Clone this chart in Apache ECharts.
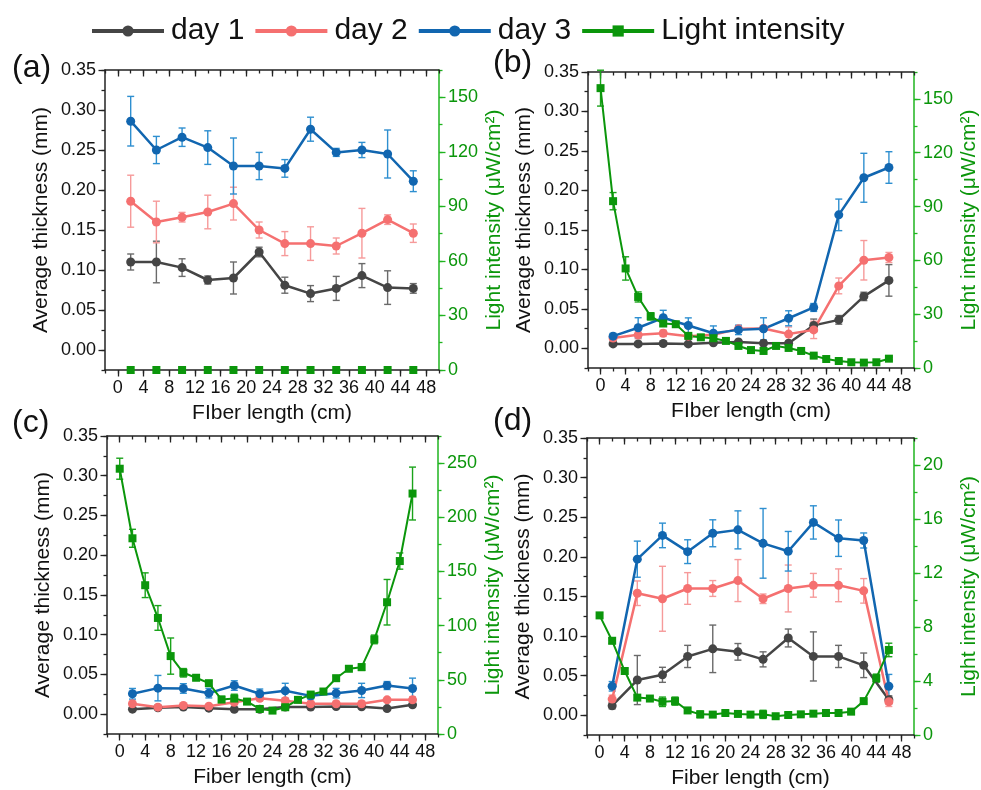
<!DOCTYPE html>
<html>
<head>
<meta charset="utf-8">
<title>Average thickness and light intensity along the fiber</title>
<script src="https://cdn.jsdelivr.net/npm/echarts@6/dist/echarts.min.js"></script>
<style>
  html, body { margin: 0; padding: 0; background: #fff; }
  #chart { width: 981px; height: 790px; }
</style>
</head>
<body>
<div id="chart"></div>
<script>
// positions along the fiber (cm)
const xDays = [2, 6, 10, 14, 18, 22, 26, 30, 34, 38, 42, 46]
const xLight = [0, 2, 4, 6, 8, 10, 12, 14, 16, 18, 20, 22, 24, 26, 28, 30, 32, 34, 36, 38, 40, 42, 44, 46]

// panel (a)
const aDay1 = [0.110, 0.110, 0.103, 0.0875, 0.090, 0.1225, 0.081, 0.0705, 0.077, 0.093, 0.078, 0.077]
const aDay1Err = [0.010, 0.026, 0.011, 0.005, 0.020, 0.006, 0.010, 0.010, 0.015, 0.015, 0.021, 0.006]
const aDay2 = [0.186, 0.160, 0.166, 0.1725, 0.183, 0.150, 0.133, 0.133, 0.130, 0.146, 0.163, 0.146]
const aDay2Err = [0.0325, 0.026, 0.006, 0.021, 0.0205, 0.010, 0.015, 0.021, 0.010, 0.031, 0.006, 0.0115]
const aDay3 = [0.286, 0.250, 0.266, 0.253, 0.230, 0.230, 0.227, 0.276, 0.247, 0.250, 0.245, 0.211]
const aDay3Err = [0.031, 0.017, 0.0115, 0.021, 0.035, 0.017, 0.011, 0.015, 0.005, 0.0095, 0.030, 0.013]
const aLight = [0, 0, 0, 0, 0, 0, 0, 0, 0, 0, 0, 0]
const aLightErr = [0, 0, 0, 0, 0, 0, 0, 0, 0, 0, 0, 0]

// panel (b)
const bDay1 = [0.0055, 0.0055, 0.006, 0.0055, 0.007, 0.008, 0.0064, 0.0064, 0.029, 0.036, 0.0657, 0.086]
const bDay1Err = [0.002, 0.002, 0.002, 0.002, 0.002, 0.002, 0.002, 0.002, 0.008, 0.0055, 0.0053, 0.020]
const bDay2 = [0.013, 0.017, 0.019, 0.0153, 0.017, 0.0246, 0.025, 0.018, 0.0233, 0.079, 0.1115, 0.115]
const bDay2Err = [0.003, 0.005, 0.004, 0.003, 0.003, 0.004, 0.003, 0.009, 0.011, 0.010, 0.025, 0.0064]
const bDay3 = [0.0153, 0.026, 0.0386, 0.0288, 0.019, 0.0233, 0.0246, 0.038, 0.0517, 0.169, 0.216, 0.229]
const bDay3Err = [0.0035, 0.0127, 0.0095, 0.0097, 0.0093, 0.006, 0.014, 0.0095, 0.005, 0.020, 0.031, 0.020]
const bLight = [156, 93, 55.5, 39.6, 28.8, 24.8, 24.4, 17.9, 17.1, 16.6, 15.1, 12.3, 10.0, 9.5, 12.3, 11.2, 9.5, 6.9, 5.0, 3.9, 3.2, 3.0, 3.2, 5.2]
const bLightErr = [10, 4.8, 6.5, 2.8, 2, 1.5, 1.2, 1.5, 1, 1, 1, 1, 1, 1, 1, 1.5, 1, 0.8, 0.8, 0.8, 0.8, 0.8, 0.8, 0.8]

// panel (c)
const cDay1 = [0.0063, 0.008, 0.009, 0.0075, 0.006, 0.006, 0.009, 0.009, 0.0096, 0.0092, 0.007, 0.0117]
const cDay1Err = [0.002, 0.002, 0.002, 0.002, 0.002, 0.002, 0.002, 0.002, 0.002, 0.002, 0.002, 0.003]
const cDay2 = [0.013, 0.0088, 0.011, 0.010, 0.015, 0.020, 0.0168, 0.013, 0.013, 0.013, 0.018, 0.018]
const cDay2Err = [0.003, 0.002, 0.002, 0.002, 0.003, 0.003, 0.003, 0.002, 0.002, 0.003, 0.002, 0.004]
const cDay3 = [0.0256, 0.0327, 0.0323, 0.0264, 0.036, 0.0256, 0.0293, 0.023, 0.0264, 0.0298, 0.036, 0.0323]
const cDay3Err = [0.0067, 0.016, 0.006, 0.006, 0.006, 0.006, 0.0095, 0.004, 0.006, 0.009, 0.005, 0.013]
const cLight = [244.8, 180.6, 137.3, 107.1, 71.9, 56.5, 51.9, 46.9, 31.8, 32.7, 29.9, 23.1, 21.6, 24.7, 31.5, 36.4, 39.2, 51.5, 60.2, 61.7, 87.3, 121.6, 159.6, 221.9]
const cLightErr = [9.7, 8.3, 11.4, 11.4, 16.7, 3.9, 2, 2, 3, 4, 2, 2, 1.5, 2, 2, 2, 2, 2, 2, 3, 4, 21, 7.5, 24.4]

// panel (d)
const dDay1 = [0.012, 0.0444, 0.051, 0.0742, 0.0838, 0.080, 0.0705, 0.0975, 0.0742, 0.0742, 0.063, 0.0195]
const dDay1Err = [0.004, 0.031, 0.0095, 0.014, 0.030, 0.0105, 0.0095, 0.0113, 0.031, 0.014, 0.0155, 0.005]
const dDay2 = [0.0203, 0.154, 0.147, 0.160, 0.160, 0.170, 0.147, 0.160, 0.164, 0.164, 0.157, 0.017]
const dDay2Err = [0.005, 0.0155, 0.041, 0.020, 0.010, 0.0265, 0.006, 0.0296, 0.015, 0.0207, 0.0155, 0.006]
const dDay3 = [0.0365, 0.197, 0.227, 0.2065, 0.2297, 0.234, 0.217, 0.207, 0.2434, 0.2235, 0.2206, 0.0365]
const dDay3Err = [0.006, 0.0228, 0.0155, 0.015, 0.017, 0.024, 0.044, 0.025, 0.021, 0.023, 0.0095, 0.015]
const dLight = [8.86, 6.98, 4.74, 2.77, 2.70, 2.46, 2.51, 1.82, 1.53, 1.51, 1.63, 1.56, 1.51, 1.53, 1.39, 1.48, 1.53, 1.58, 1.63, 1.63, 1.73, 2.51, 4.21, 6.30]
const dLightErr = [0.2, 0.2, 0.2, 0.2, 0.15, 0.35, 0.3, 0.15, 0.25, 0.15, 0.15, 0.15, 0.15, 0.3, 0.15, 0.2, 0.15, 0.15, 0.15, 0.15, 0.15, 0.15, 0.3, 0.5]

// tick labels
const xTicks = [0, 4, 8, 12, 16, 20, 24, 28, 32, 36, 40, 44, 48]
const thickTicks = [0, 0.05, 0.1, 0.15, 0.2, 0.25, 0.3, 0.35]
const lightTicksAB = [0, 30, 60, 90, 120, 150]
const lightTicksC = [0, 50, 100, 150, 200, 250]
const lightTicksD = [0, 4, 8, 12, 16, 20]

const FONT = 'Liberation Sans'
const C_DAY1 = '#454545'
const C_DAY2 = '#f57070'
const C_DAY3 = '#1166b0'
const C_LIGHT = '#0b960b'
const C_GREEN_AXIS = '#1fb41f'

// panels: plot box and axes per panel
const panels = [
  { box: { left: 105, top: 70, width: 334, height: 300 }, xName: 'FIber length (cm)', lmax: 165, lstep: 15, lticks: lightTicksAB,
    d1: aDay1, e1: aDay1Err, d2: aDay2, e2: aDay2Err, d3: aDay3, e3: aDay3Err, xl: xDays, li: aLight, le: aLightErr, hideLightLine: true },
  { box: { left: 588, top: 72, width: 334, height: 296 }, xName: 'FIber length (cm)', lmax: 165, lstep: 15, lticks: lightTicksAB,
    d1: bDay1, e1: bDay1Err, d2: bDay2, e2: bDay2Err, d3: bDay3, e3: bDay3Err, xl: xLight, li: bLight, le: bLightErr },
  { box: { left: 107, top: 436, width: 331, height: 298 }, xName: 'Fiber length (cm)', lmax: 275, lstep: 25, lticks: lightTicksC,
    d1: cDay1, e1: cDay1Err, d2: cDay2, e2: cDay2Err, d3: cDay3, e3: cDay3Err, xl: xLight, li: cLight, le: cLightErr },
  { box: { left: 587, top: 438, width: 335, height: 301 }, xName: 'Fiber length (cm)', lmax: 22, lstep: 2, lticks: lightTicksD,
    d1: dDay1, e1: dDay1Err, d2: dDay2, e2: dDay2Err, d3: dDay3, e3: dDay3Err, xl: xLight, li: dLight, le: dLightErr }
]

const grid = []
const xAxis = []
const yAxis = []
const series = []

function near(v, list) {
  return list.some((t) => Math.abs(t - v) < 1e-6)
}

function errSeries(xs, ys, errs, color, xi, yi) {
  return {
    type: 'custom',
    xAxisIndex: xi,
    yAxisIndex: yi,
    silent: true,
    encode: { x: 0, y: 1 },
    data: xs.map((x, i) => [x, ys[i], errs[i]]),
    renderItem: function (params, api) {
      const x = api.value(0)
      const y = api.value(1)
      const e = api.value(2)
      const hi = api.coord([x, y + e])
      const lo = api.coord([x, y - e])
      const w = 3.5
      const st = { stroke: color, lineWidth: 1.4 }
      return {
        type: 'group',
        children: [
          { type: 'line', shape: { x1: hi[0], y1: hi[1], x2: lo[0], y2: lo[1] }, style: st },
          { type: 'line', shape: { x1: hi[0] - w, y1: hi[1], x2: hi[0] + w, y2: hi[1] }, style: st },
          { type: 'line', shape: { x1: lo[0] - w, y1: lo[1], x2: lo[0] + w, y2: lo[1] }, style: st }
        ]
      }
    }
  }
}

function lineSeries(name, xs, ys, color, xi, yi, symbol, size, width) {
  return {
    type: 'line',
    name: name,
    xAxisIndex: xi,
    yAxisIndex: yi,
    data: xs.map((x, i) => [x, ys[i]]),
    symbol: symbol,
    symbolSize: size,
    showAllSymbol: true,
    // 折线宽度
    lineStyle: { color: color, width: width },
    itemStyle: { color: color },
    emphasis: { disabled: true }
  }
}

panels.forEach((p, k) => {
  grid.push(p.box)
  const xi = xAxis.length
  const yi = yAxis.length

  // bottom axis: minor ticks + labels
  xAxis.push({
    gridIndex: k, type: 'value', position: 'bottom', min: -2, max: 50, interval: 2,
    name: p.xName, nameLocation: 'middle', nameGap: 33,
    nameTextStyle: { fontFamily: FONT, fontSize: 21, color: '#111' },
    axisLine: { onZero: false, lineStyle: { color: '#222', width: 1.5 } },
    axisTick: { length: 3.5, lineStyle: { color: '#222', width: 1.3 } },
    axisLabel: {
      margin: 9, fontFamily: FONT, fontSize: 18, color: '#111',
      formatter: (v) => (near(v, xTicks) ? String(Math.round(v)) : '')
    },
    splitLine: { show: false }
  })
  // bottom axis: major ticks
  xAxis.push({
    gridIndex: k, type: 'value', position: 'bottom', min: -2, max: 50,
    axisLine: { show: false, onZero: false },
    axisTick: { length: 6.5, customValues: xTicks, lineStyle: { color: '#222', width: 1.3 } },
    axisLabel: { show: false },
    splitLine: { show: false }
  })
  // top mirror axis: ticks inward
  xAxis.push({
    gridIndex: k, type: 'value', position: 'top', min: -2, max: 50, interval: 2,
    axisLine: { onZero: false, lineStyle: { color: '#222', width: 1.5 } },
    axisTick: { inside: true, length: 3.5, lineStyle: { color: '#222', width: 1.3 } },
    axisLabel: { show: false },
    splitLine: { show: false }
  })
  xAxis.push({
    gridIndex: k, type: 'value', position: 'top', min: -2, max: 50,
    axisLine: { show: false, onZero: false },
    axisTick: { inside: true, length: 6.5, customValues: xTicks, lineStyle: { color: '#222', width: 1.3 } },
    axisLabel: { show: false },
    splitLine: { show: false }
  })

  // left axis: thickness
  yAxis.push({
    gridIndex: k, type: 'value', position: 'left', min: -0.025, max: 0.35, interval: 0.025,
    name: 'Average thickness (mm)', nameLocation: 'middle', nameGap: 53, nameRotate: 90,
    nameTextStyle: { fontFamily: FONT, fontSize: 21, color: '#111' },
    axisLine: { show: true, onZero: false, lineStyle: { color: '#222', width: 1.5 } },
    axisTick: { show: true, length: 3.5, lineStyle: { color: '#222', width: 1.3 } },
    axisLabel: {
      margin: 9, fontFamily: FONT, fontSize: 18, color: '#111',
      formatter: (v) => (near(v, thickTicks) ? v.toFixed(2) : '')
    },
    splitLine: { show: false }
  })
  yAxis.push({
    gridIndex: k, type: 'value', position: 'left', min: -0.025, max: 0.35,
    axisLine: { show: false, onZero: false },
    axisTick: { show: true, length: 6.5, customValues: thickTicks, lineStyle: { color: '#222', width: 1.3 } },
    axisLabel: { show: false },
    splitLine: { show: false }
  })
  // right axis: light intensity
  yAxis.push({
    gridIndex: k, type: 'value', position: 'right', min: 0, max: p.lmax, interval: p.lstep,
    name: 'Light intensity (μW/cm²)', nameLocation: 'middle', nameGap: 45, nameRotate: 90,
    nameTextStyle: { fontFamily: FONT, fontSize: 21, color: C_LIGHT },
    axisLine: { show: true, onZero: false, lineStyle: { color: C_GREEN_AXIS, width: 1.5 } },
    axisTick: { show: true, length: 3.5, lineStyle: { color: C_GREEN_AXIS, width: 1.3 } },
    axisLabel: {
      margin: 9, fontFamily: FONT, fontSize: 18, color: C_LIGHT,
      formatter: (v) => (near(v, p.lticks) ? String(Math.round(v)) : '')
    },
    splitLine: { show: false }
  })
  yAxis.push({
    gridIndex: k, type: 'value', position: 'right', min: 0, max: p.lmax,
    axisLine: { show: false, onZero: false },
    axisTick: { show: true, length: 6.5, customValues: p.lticks, lineStyle: { color: C_GREEN_AXIS, width: 1.3 } },
    axisLabel: { show: false },
    splitLine: { show: false }
  })

  // error bars then lines, light intensity on top
  series.push(errSeries(xDays, p.d1, p.e1, '#6a6a6a', xi, yi))
  series.push(lineSeries('day 1', xDays, p.d1, C_DAY1, xi, yi, 'circle', 9, 2.5))
  series.push(errSeries(xDays, p.d2, p.e2, '#f69a9a', xi, yi))
  series.push(lineSeries('day 2', xDays, p.d2, C_DAY2, xi, yi, 'circle', 9, 2.5))
  series.push(errSeries(xDays, p.d3, p.e3, '#2e8fd0', xi, yi))
  series.push(lineSeries('day 3', xDays, p.d3, C_DAY3, xi, yi, 'circle', 9, 2.5))
  series.push(errSeries(p.xl, p.li, p.le, '#1aa31a', xi, yi + 2))
  series.push(lineSeries('Light intensity', p.xl, p.li, C_LIGHT, xi, yi + 2, 'rect', 8, p.hideLightLine ? 0 : 2))
})

const chart = echarts.init(document.getElementById('chart'), null, { renderer: 'canvas' })

chart.setOption({
  animation: false,
  textStyle: { fontFamily: FONT },
  legend: {
    data: ['day 1', 'day 2', 'day 3', 'Light intensity'],
    left: 85,
    top: 11,
    itemWidth: 72,
    itemHeight: 14,
    itemGap: 9,
    lineStyle: { width: 4 },
    textStyle: { fontFamily: FONT, fontSize: 30, color: '#111', padding: [0, 0, 0, 2] }
  },
  graphic: [
    { type: 'text', left: 12, top: 52, style: { text: '(a)', font: '32px "Liberation Sans"', fill: '#111' } },
    { type: 'text', left: 493, top: 47, style: { text: '(b)', font: '32px "Liberation Sans"', fill: '#111' } },
    { type: 'text', left: 12, top: 407, style: { text: '(c)', font: '32px "Liberation Sans"', fill: '#111' } },
    { type: 'text', left: 493, top: 405, style: { text: '(d)', font: '32px "Liberation Sans"', fill: '#111' } }
  ],
  grid: grid,
  xAxis: xAxis,
  yAxis: yAxis,
  series: series
})
</script>
</body>
</html>
